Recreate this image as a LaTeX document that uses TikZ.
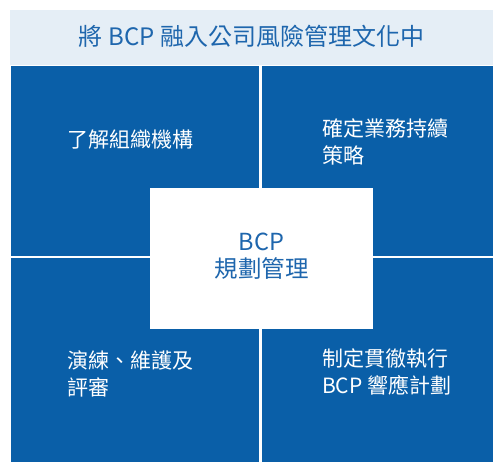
\documentclass[tikz,border=0pt]{standalone}
\usepackage{fontspec}
\setmainfont{Noto Sans CJK TC}
\definecolor{bcpblue}{HTML}{0A5FA8}
\definecolor{bandbg}{HTML}{E5EEF6}
\definecolor{titleblue}{HTML}{1E66AD}
\begin{document}
\begin{tikzpicture}[x=1pt,y=-1pt,
  quad/.style={fill=bcpblue},
  celltext/.style={text=white,align=left,inner sep=0pt,anchor=west,
     font=\fontsize{21}{26.5}\selectfont},
  centertext/.style={text=titleblue,align=center,inner sep=0pt,
     font=\fontsize{23.5}{27.5}\selectfont}]
\useasboundingbox (0,0) rectangle (493,462);
% title band
\fill[bandbg] (10,10) rectangle (493,65.5);
\node[text=titleblue,inner sep=0pt,font=\fontsize{24}{28}\selectfont] (title) at (251.5,36) {將 BCP 融入公司風險管理文化中};
% quadrants
\fill[quad] (11,66) rectangle (259,256.5);
\fill[quad] (262,66) rectangle (493,256.5);
\fill[quad] (11,258.5) rectangle (259,462);
\fill[quad] (262,258.5) rectangle (493,462);
% centre box
\fill[white] (150,188) rectangle (373,329);
% texts
\node[celltext] (tl) at (67,140) {了解組織機構};
\node[celltext] (tr) at (322,142) {確定業務持續\\策略};
\node[celltext] (bl) at (67,374) {演練、維護及\\評審};
\node[celltext] (br) at (322,372) {制定貫徹執行\\BCP 響應計劃};
\node[centertext] (c) at (261.5,256) {BCP\\規劃管理};
\end{tikzpicture}
\end{document}
